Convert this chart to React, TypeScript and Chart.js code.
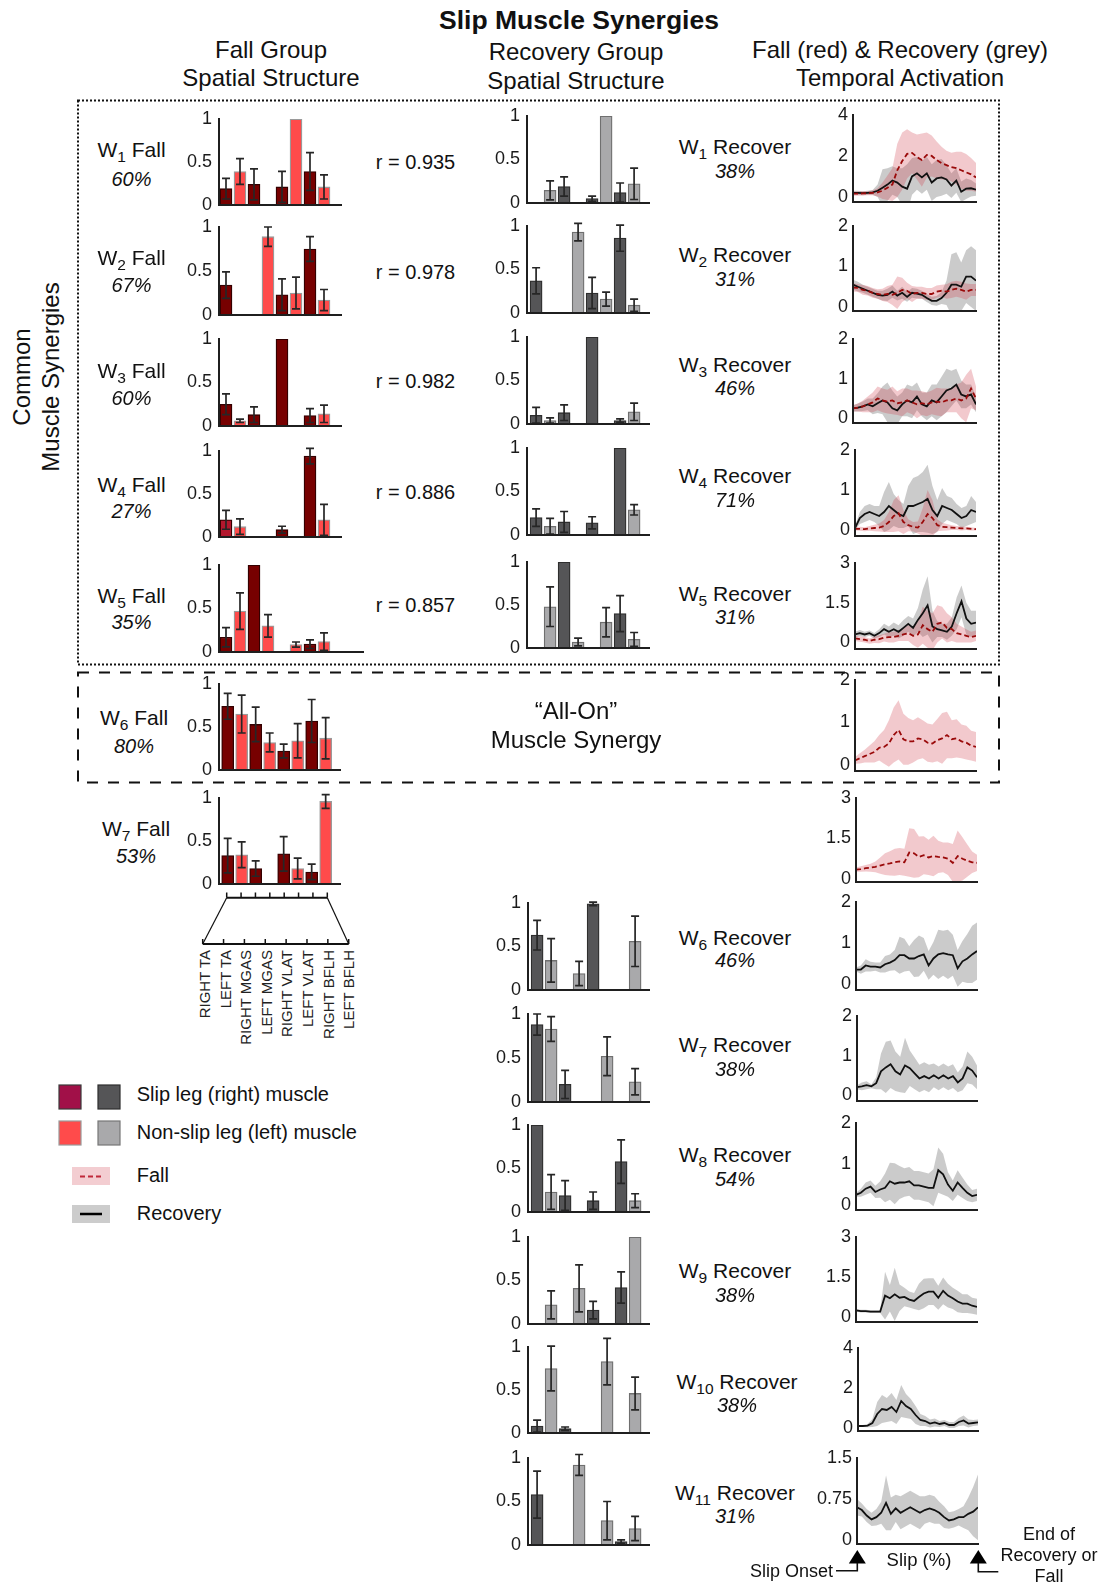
import React, { useEffect, useRef } from 'react';
import { Chart, registerables } from 'chart.js';

Chart.register(...registerables);

const FONT = "'Liberation Sans', Arial, Helvetica, sans-serif";
Chart.defaults.font.family = FONT;
Chart.defaults.color = '#1a1a1a';

// ------------------------------------------------------------------ data
const MUSCLES = ['RIGHT TA', 'LEFT TA', 'RIGHT MGAS', 'LEFT MGAS', 'RIGHT VLAT', 'LEFT VLAT', 'RIGHT BFLH', 'LEFT BFLH'];

const FALL_SHARE = ['60%', '67%', '60%', '27%', '35%', '80%', '53%'];
const R_VALUES = ['0.935', '0.978', '0.982', '0.886', '0.857'];
const REC_SHARE = ['38%', '31%', '46%', '71%', '31%', '46%', '38%', '54%', '38%', '38%', '31%'];

const BAR_TICKS = [0, 0.5, 1];
const TICKS_2 = [0, 1, 2];
const TICKS_3 = [0, 1.5, 3];
const TICKS_4 = [0, 2, 4];
const TICKS_15 = [0, 0.75, 1.5];

// spatial structure (8 muscles, 0 = no bar)
const FALL1_VAL = [0.19, 0.39, 0.24, 0, 0.21, 1.0, 0.39, 0.21];
const FALL1_ERR = [0.12, 0.15, 0.18, 0, 0.18, 0, 0.22, 0.14];
const FALL2_VAL = [0.34, 0, 0, 0.89, 0.23, 0.25, 0.75, 0.17];
const FALL2_ERR = [0.15, 0, 0, 0.11, 0.18, 0.18, 0.14, 0.12];
const FALL3_VAL = [0.25, 0.06, 0.13, 0, 1.0, 0, 0.12, 0.14];
const FALL3_ERR = [0.12, 0.02, 0.09, 0, 0, 0, 0.08, 0.1];
const FALL4_VAL = [0.2, 0.12, 0, 0, 0.085, 0, 0.94, 0.2];
const FALL4_ERR = [0.11, 0.09, 0, 0, 0.04, 0, 0.09, 0.18];
const FALL5_VAL = [0.17, 0.47, 1.0, 0.3, 0, 0.085, 0.09, 0.12];
const FALL5_ERR = [0.11, 0.21, 0, 0.13, 0, 0.03, 0.05, 0.1];
const FALL6_VAL = [0.74, 0.65, 0.53, 0.32, 0.22, 0.34, 0.57, 0.37];
const FALL6_ERR = [0.15, 0.22, 0.2, 0.11, 0.08, 0.2, 0.25, 0.24];
const FALL7_VAL = [0.33, 0.34, 0.18, 0, 0.35, 0.18, 0.14, 0.96];
const FALL7_ERR = [0.2, 0.15, 0.09, 0, 0.2, 0.12, 0.09, 0.08];

const REC1_VAL = [0, 0.145, 0.19, 0, 0.05, 1.0, 0.12, 0.22];
const REC1_ERR = [0, 0.11, 0.11, 0, 0.03, 0, 0.11, 0.18];
const REC2_VAL = [0.37, 0, 0, 0.93, 0.23, 0.16, 0.86, 0.09];
const REC2_ERR = [0.15, 0, 0, 0.1, 0.18, 0.08, 0.15, 0.07];
const REC3_VAL = [0.1, 0.04, 0.13, 0, 1.0, 0, 0.04, 0.14];
const REC3_ERR = [0.09, 0.03, 0.09, 0, 0, 0, 0.02, 0.1];
const REC4_VAL = [0.2, 0.1, 0.15, 0, 0.14, 0, 1.0, 0.29];
const REC4_ERR = [0.1, 0.09, 0.12, 0, 0.07, 0, 0, 0.06];
const REC5_VAL = [0, 0.48, 1.0, 0.07, 0, 0.3, 0.4, 0.1];
const REC5_ERR = [0, 0.23, 0, 0.045, 0, 0.17, 0.21, 0.08];
const REC6_VAL = [0.63, 0.34, 0, 0.19, 0.99, 0, 0, 0.56];
const REC6_ERR = [0.17, 0.25, 0, 0.14, 0.02, 0, 0, 0.29];
const REC7_VAL = [0.88, 0.83, 0.2, 0, 0, 0.52, 0, 0.23];
const REC7_ERR = [0.12, 0.14, 0.16, 0, 0, 0.22, 0, 0.15];
const REC8_VAL = [1.0, 0.23, 0.19, 0, 0.13, 0, 0.58, 0.13];
const REC8_ERR = [0, 0.2, 0.17, 0, 0.1, 0, 0.25, 0.08];
const REC9_VAL = [0, 0.22, 0, 0.41, 0.16, 0, 0.42, 1.0];
const REC9_ERR = [0, 0.16, 0, 0.27, 0.1, 0, 0.18, 0];
const REC10_VAL = [0.08, 0.75, 0.05, 0, 0, 0.83, 0, 0.46];
const REC10_ERR = [0.07, 0.26, 0.02, 0, 0, 0.27, 0, 0.19];
const REC11_VAL = [0.58, 0, 0, 0.92, 0, 0.28, 0.04, 0.19];
const REC11_ERR = [0.27, 0, 0, 0.12, 0, 0.22, 0.02, 0.14];

// temporal activation (x = slip %)
const SLIP_PCT = [0, 4, 8, 12, 16, 20, 24, 28, 32, 36, 40, 44, 48, 52, 56, 60, 64, 68, 72, 76, 80, 84, 88, 92, 96, 100];

const REC1_M = [0.2, 0.2, 0.18, 0.2, 0.22, 0.3, 0.45, 0.6, 0.8, 0.7, 0.5, 0.4, 1.0, 1.15, 0.95, 1.15, 0.7, 0.9, 0.95, 0.85, 0.55, 0.8, 0.25, 0.4, 0.42, 0.35];
const REC1_S = [0.1, 0.1, 0.1, 0.1, 0.12, 0.3, 0.9, 0.8, 0.7, 0.7, 0.9, 1.2, 0.9, 0.8, 0.8, 0.8, 0.9, 0.9, 0.9, 0.7, 0.6, 0.6, 0.5, 0.5, 0.4, 0.3];
const FALL1_M = [0.16, 0.16, 0.17, 0.18, 0.2, 0.22, 0.3, 0.45, 0.6, 1.3, 1.75, 2.1, 2.15, 1.95, 1.8, 2.05, 2.0, 1.8, 1.65, 1.55, 1.45, 1.4, 1.3, 1.2, 1.1, 0.95];
const FALL1_S = [0.1, 0.1, 0.1, 0.1, 0.12, 0.2, 0.4, 0.6, 0.8, 1.3, 1.4, 1.2, 1.0, 1.1, 1.3, 1.1, 1.0, 0.9, 0.8, 0.7, 0.7, 0.8, 0.9, 0.9, 0.8, 0.7];

const REC2_M = [0.55, 0.5, 0.45, 0.4, 0.35, 0.3, 0.28, 0.3, 0.38, 0.28, 0.35, 0.25, 0.35, 0.33, 0.3, 0.22, 0.15, 0.15, 0.22, 0.35, 0.55, 0.55, 0.5, 0.75, 0.75, 0.65];
const REC2_S = [0.12, 0.12, 0.1, 0.1, 0.1, 0.1, 0.12, 0.15, 0.15, 0.12, 0.15, 0.12, 0.12, 0.12, 0.1, 0.1, 0.1, 0.12, 0.15, 0.3, 0.75, 0.8, 0.6, 0.65, 0.75, 0.75];
const FALL2_M = [0.48, 0.47, 0.42, 0.4, 0.35, 0.32, 0.3, 0.32, 0.3, 0.35, 0.42, 0.4, 0.32, 0.35, 0.35, 0.32, 0.32, 0.38, 0.4, 0.38, 0.42, 0.45, 0.42, 0.38, 0.42, 0.42];
const FALL2_S = [0.1, 0.1, 0.12, 0.12, 0.12, 0.12, 0.15, 0.2, 0.25, 0.4, 0.3, 0.2, 0.2, 0.15, 0.15, 0.15, 0.15, 0.15, 0.15, 0.18, 0.2, 0.2, 0.2, 0.2, 0.15, 0.15];

const REC3_M = [0.25, 0.27, 0.3, 0.35, 0.3, 0.38, 0.45, 0.4, 0.25, 0.2, 0.35, 0.45, 0.4, 0.55, 0.35, 0.3, 0.45, 0.4, 0.55, 0.7, 0.75, 0.85, 0.6, 0.55, 0.6, 0.35];
const REC3_S = [0.08, 0.1, 0.12, 0.15, 0.2, 0.25, 0.35, 0.5, 0.45, 0.35, 0.3, 0.4, 0.4, 0.35, 0.3, 0.35, 0.4, 0.45, 0.5, 0.55, 0.45, 0.4, 0.35, 0.3, 0.25, 0.2];
const FALL3_M = [0.25, 0.27, 0.3, 0.35, 0.4, 0.5, 0.45, 0.42, 0.45, 0.38, 0.4, 0.45, 0.4, 0.35, 0.38, 0.35, 0.4, 0.42, 0.4, 0.45, 0.45, 0.5, 0.45, 0.5, 0.75, 0.5];
const FALL3_S = [0.08, 0.1, 0.15, 0.2, 0.25, 0.3, 0.3, 0.3, 0.35, 0.3, 0.35, 0.3, 0.3, 0.35, 0.3, 0.3, 0.3, 0.35, 0.35, 0.3, 0.3, 0.35, 0.45, 0.6, 0.5, 0.3];

const REC4_M = [0.05, 0.3, 0.4, 0.45, 0.4, 0.35, 0.45, 0.6, 0.5, 0.4, 0.35, 0.6, 0.6, 0.65, 0.7, 0.78, 0.5, 0.35, 0.6, 0.55, 0.5, 0.4, 0.3, 0.35, 0.5, 0.45];
const REC4_S = [0.05, 0.15, 0.2, 0.2, 0.2, 0.25, 0.5, 0.6, 0.4, 0.35, 0.3, 0.5, 0.7, 0.7, 0.75, 0.85, 0.6, 0.4, 0.45, 0.3, 0.3, 0.25, 0.25, 0.25, 0.35, 0.25];
const FALL4_M = [0.03, 0.03, 0.02, 0.04, 0.05, 0.06, 0.1, 0.2, 0.35, 0.42, 0.2, 0.12, 0.08, 0.06, 0.2, 0.4, 0.3, 0.12, 0.08, 0.07, 0.06, 0.05, 0.04, 0.04, 0.03, 0.02];
const FALL4_S = [0.04, 0.05, 0.05, 0.06, 0.08, 0.1, 0.15, 0.25, 0.4, 0.45, 0.3, 0.15, 0.12, 0.15, 0.35, 0.6, 0.45, 0.15, 0.1, 0.08, 0.06, 0.05, 0.05, 0.04, 0.04, 0.03];

const REC5_M = [0.3, 0.35, 0.3, 0.35, 0.25, 0.35, 0.5, 0.4, 0.5, 0.4, 0.55, 0.7, 0.55, 0.85, 1.1, 1.4, 0.6, 0.5, 0.45, 0.4, 0.6, 1.1, 1.55, 0.9, 0.7, 0.75];
const REC5_S = [0.1, 0.12, 0.1, 0.1, 0.1, 0.15, 0.2, 0.2, 0.25, 0.25, 0.3, 0.3, 0.35, 0.45, 0.9, 1.1, 0.6, 0.3, 0.25, 0.3, 0.35, 0.6, 0.6, 0.6, 0.5, 0.45];
const FALL5_M = [0.15, 0.12, 0.1, 0.05, 0.1, 0.12, 0.18, 0.2, 0.2, 0.25, 0.3, 0.35, 0.25, 0.3, 0.65, 0.5, 0.4, 0.7, 0.75, 0.55, 0.5, 0.35, 0.3, 0.25, 0.2, 0.25];
const FALL5_S = [0.1, 0.1, 0.1, 0.1, 0.12, 0.15, 0.15, 0.2, 0.2, 0.2, 0.25, 0.3, 0.35, 0.5, 0.7, 0.7, 0.7, 0.7, 0.6, 0.55, 0.45, 0.35, 0.3, 0.25, 0.2, 0.2];

const FALL6_M = [0.1, 0.15, 0.2, 0.25, 0.3, 0.4, 0.42, 0.5, 0.7, 0.82, 0.6, 0.55, 0.55, 0.62, 0.6, 0.52, 0.5, 0.58, 0.62, 0.7, 0.6, 0.62, 0.55, 0.52, 0.45, 0.42];
const FALL6_S = [0.08, 0.12, 0.15, 0.2, 0.25, 0.3, 0.4, 0.55, 0.65, 0.7, 0.6, 0.55, 0.5, 0.5, 0.45, 0.45, 0.45, 0.5, 0.6, 0.55, 0.45, 0.45, 0.4, 0.4, 0.35, 0.35];
const FALL7_M = [0.35, 0.37, 0.4, 0.42, 0.45, 0.5, 0.55, 0.58, 0.62, 0.65, 0.62, 0.98, 0.95, 0.82, 0.88, 0.8, 0.85, 0.82, 0.8, 0.75, 0.6, 0.85, 0.75, 0.68, 0.62, 0.6];
const FALL7_S = [0.08, 0.1, 0.12, 0.15, 0.2, 0.3, 0.4, 0.45, 0.5, 0.5, 0.5, 0.9, 0.9, 0.75, 0.7, 0.65, 0.75, 0.6, 0.55, 0.6, 0.7, 0.95, 0.8, 0.6, 0.4, 0.3];

const REC6_M = [0.35, 0.35, 0.45, 0.42, 0.42, 0.4, 0.48, 0.52, 0.58, 0.7, 0.7, 0.62, 0.62, 0.68, 0.72, 0.45, 0.62, 0.72, 0.75, 0.72, 0.7, 0.38, 0.55, 0.62, 0.72, 0.8];
const REC6_S = [0.05, 0.1, 0.15, 0.12, 0.1, 0.12, 0.2, 0.2, 0.25, 0.45, 0.4, 0.3, 0.45, 0.5, 0.4, 0.35, 0.4, 0.6, 0.55, 0.6, 0.5, 0.45, 0.5, 0.6, 0.7, 0.7];
const REC7_M = [0.2, 0.22, 0.25, 0.22, 0.3, 0.6, 0.7, 0.78, 0.6, 0.52, 0.75, 0.68, 0.55, 0.42, 0.48, 0.42, 0.5, 0.42, 0.5, 0.42, 0.48, 0.32, 0.42, 0.7, 0.62, 0.45];
const REC7_S = [0.05, 0.1, 0.1, 0.05, 0.15, 0.45, 0.65, 0.6, 0.5, 0.45, 0.7, 0.45, 0.4, 0.35, 0.35, 0.35, 0.3, 0.3, 0.3, 0.3, 0.3, 0.25, 0.3, 0.4, 0.35, 0.3];
const REC8_M = [0.25, 0.3, 0.4, 0.45, 0.32, 0.38, 0.42, 0.58, 0.52, 0.55, 0.55, 0.58, 0.48, 0.48, 0.45, 0.42, 0.42, 0.85, 0.75, 0.5, 0.35, 0.55, 0.42, 0.3, 0.22, 0.25];
const REC8_S = [0.05, 0.1, 0.15, 0.15, 0.15, 0.2, 0.35, 0.45, 0.5, 0.4, 0.35, 0.35, 0.35, 0.35, 0.35, 0.35, 0.45, 0.55, 0.5, 0.3, 0.25, 0.3, 0.25, 0.2, 0.15, 0.15];
const REC9_M = [0.25, 0.22, 0.22, 0.2, 0.2, 0.2, 0.8, 0.7, 0.85, 0.72, 0.75, 0.65, 0.6, 0.75, 0.88, 0.95, 0.95, 0.72, 0.98, 0.8, 0.7, 0.58, 0.5, 0.5, 0.42, 0.38];
const REC9_S = [0.05, 0.05, 0.05, 0.05, 0.05, 0.05, 0.9, 0.5, 1.0, 0.5, 0.35, 0.3, 0.3, 0.5, 0.55, 0.5, 0.5, 0.45, 0.5, 0.45, 0.4, 0.4, 0.35, 0.35, 0.3, 0.3];
const REC10_M = [0.1, 0.1, 0.12, 0.25, 0.7, 0.95, 0.9, 1.05, 0.8, 1.35, 1.1, 0.95, 0.65, 0.4, 0.35, 0.22, 0.28, 0.2, 0.25, 0.15, 0.15, 0.3, 0.38, 0.22, 0.25, 0.28];
const REC10_S = [0.05, 0.05, 0.08, 0.2, 0.6, 0.7, 0.6, 0.7, 0.6, 0.8, 0.6, 0.5, 0.45, 0.3, 0.25, 0.2, 0.2, 0.15, 0.15, 0.15, 0.15, 0.2, 0.25, 0.2, 0.15, 0.15];
const REC11_M = [0.6, 0.55, 0.45, 0.38, 0.42, 0.5, 0.68, 0.48, 0.58, 0.5, 0.55, 0.6, 0.55, 0.5, 0.55, 0.58, 0.55, 0.5, 0.42, 0.36, 0.38, 0.42, 0.42, 0.48, 0.52, 0.6];
const REC11_S = [0.15, 0.12, 0.12, 0.12, 0.15, 0.2, 0.5, 0.3, 0.25, 0.3, 0.3, 0.3, 0.3, 0.3, 0.25, 0.25, 0.25, 0.2, 0.2, 0.15, 0.15, 0.15, 0.2, 0.3, 0.45, 0.6];

// ------------------------------------------------------------------ tables built from the arrays
const FALL_SYN = [
  [FALL1_VAL, FALL1_ERR], [FALL2_VAL, FALL2_ERR], [FALL3_VAL, FALL3_ERR], [FALL4_VAL, FALL4_ERR],
  [FALL5_VAL, FALL5_ERR], [FALL6_VAL, FALL6_ERR], [FALL7_VAL, FALL7_ERR],
];
const REC_SYN = [
  [REC1_VAL, REC1_ERR], [REC2_VAL, REC2_ERR], [REC3_VAL, REC3_ERR], [REC4_VAL, REC4_ERR], [REC5_VAL, REC5_ERR],
  [REC6_VAL, REC6_ERR], [REC7_VAL, REC7_ERR], [REC8_VAL, REC8_ERR], [REC9_VAL, REC9_ERR], [REC10_VAL, REC10_ERR], [REC11_VAL, REC11_ERR],
];
const TEMPORAL: any[] = [
  { fall: [FALL1_M, FALL1_S], rec: [REC1_M, REC1_S], ticks: TICKS_4 },
  { fall: [FALL2_M, FALL2_S], rec: [REC2_M, REC2_S], ticks: TICKS_2 },
  { fall: [FALL3_M, FALL3_S], rec: [REC3_M, REC3_S], ticks: TICKS_2 },
  { fall: [FALL4_M, FALL4_S], rec: [REC4_M, REC4_S], ticks: TICKS_2 },
  { fall: [FALL5_M, FALL5_S], rec: [REC5_M, REC5_S], ticks: TICKS_3 },
  { fall: [FALL6_M, FALL6_S], ticks: TICKS_2 },
  { fall: [FALL7_M, FALL7_S], ticks: TICKS_3 },
  { rec: [REC6_M, REC6_S], ticks: TICKS_2 },
  { rec: [REC7_M, REC7_S], ticks: TICKS_2 },
  { rec: [REC8_M, REC8_S], ticks: TICKS_2 },
  { rec: [REC9_M, REC9_S], ticks: TICKS_3 },
  { rec: [REC10_M, REC10_S], ticks: TICKS_4 },
  { rec: [REC11_M, REC11_S], ticks: TICKS_15 },
];

// ------------------------------------------------------------------ layout (pixels)
const FALL_BOX = [
  { l: 219, r: 341, t: 119, b: 205, xMin: 0.5 },
  { l: 219, r: 341, t: 227, b: 315, xMin: 0.5 },
  { l: 219, r: 341, t: 339, b: 426, xMin: 0.5 },
  { l: 219, r: 341, t: 451, b: 537, xMin: 0.5 },
  { l: 219, r: 363, t: 565, b: 652, xMin: 0.5 },
  { l: 219, r: 340, t: 684, b: 770, xMin: 0.38 },
  { l: 219, r: 340, t: 798, b: 884, xMin: 0.38 },
];
const REC_BOX = [
  { l: 527, r: 649, t: 116, b: 203 },
  { l: 527, r: 649, t: 226, b: 313 },
  { l: 527, r: 649, t: 337, b: 424 },
  { l: 527, r: 649, t: 448, b: 535 },
  { l: 527, r: 649, t: 562, b: 648 },
  { l: 528, r: 649, t: 903, b: 990 },
  { l: 528, r: 649, t: 1014, b: 1102 },
  { l: 528, r: 649, t: 1125, b: 1212 },
  { l: 528, r: 649, t: 1237, b: 1324 },
  { l: 528, r: 649, t: 1347, b: 1433 },
  { l: 528, r: 649, t: 1458, b: 1545 },
];
const TEMP_BOX = [
  { l: 853, r: 976, t: 115, b: 202, yMin: -0.25 },
  { l: 853, r: 976, t: 226, b: 311, yMin: -0.1 },
  { l: 853, r: 976, t: 339, b: 423, yMin: -0.12 },
  { l: 855, r: 976, t: 450, b: 536, yMin: -0.15 },
  { l: 855, r: 976, t: 563, b: 649, yMin: -0.25 },
  { l: 855, r: 976, t: 680, b: 771, yMin: -0.15 },
  { l: 856, r: 977, t: 798, b: 882, yMin: -0.11 },
  { l: 856, r: 977, t: 902, b: 990, yMin: -0.15 },
  { l: 857, r: 977, t: 1016, b: 1101, yMin: -0.15 },
  { l: 856, r: 977, t: 1123, b: 1210, yMin: -0.12 },
  { l: 856, r: 977, t: 1237, b: 1322, yMin: -0.19 },
  { l: 858, r: 978, t: 1348, b: 1431, yMin: -0.15 },
  { l: 857, r: 978, t: 1458, b: 1544, yMin: -0.07 },
];

const SLOT_PX = 14;
const PADL = 46, PADT = 14, PADR = 4, PADB = 14;

const DARK_RED = '#770000', LIGHT_RED = '#ff4b4b', DARK_GREY = '#555557', LIGHT_GREY = '#a9a9ab';
const CRIMSON = '#b3172d';
const REC_BAND = 'rgba(140,140,140,0.45)';
const FALL_BAND = 'rgba(210,60,75,0.28)';
const AXIS = '#1f1f1f';
const TICK_FONT = 18;

// ------------------------------------------------------------------ chart helpers
const commonOpts = () => ({
  responsive: false,
  animation: false,
  events: [],
  devicePixelRatio: 1,
  layout: { padding: { left: 0, right: PADR, top: PADT, bottom: PADB } },
  plugins: { legend: { display: false }, tooltip: { enabled: false }, title: { display: false } },
});

const xScale = (min: number, max: number) => ({
  type: 'linear',
  min, max, offset: false,
  afterFit: (s: any) => { s.height = 0; s.paddingLeft = 0; s.paddingRight = 0; },
  ticks: { display: false },
  grid: { display: false, drawTicks: false },
  border: { display: true, color: AXIS, width: 2, z: 1 },
});

const yScale = (min: number, max: number, ticks: number[], pad: number) => ({
  type: 'linear',
  min, max,
  afterFit: (s: any) => { s.width = PADL; s.paddingTop = 0; s.paddingBottom = 0; },
  afterBuildTicks: (s: any) => { s.ticks = ticks.map((v) => ({ value: v })); },
  ticks: { padding: pad, color: '#1a1a1a', font: { family: FONT, size: TICK_FONT }, autoSkip: false, callback: (v: any) => String(v) },
  grid: { display: false, drawTicks: false },
  border: { display: true, color: AXIS, width: 2, z: 1 },
});

function errorBarPlugin(errs: number[]) {
  return {
    id: 'errorBars',
    afterDatasetsDraw(chart: any) {
      const meta = chart.getDatasetMeta(0);
      const ys = chart.scales.y;
      const ctx = chart.ctx;
      const pts = chart.data.datasets[0].data;
      ctx.save();
      ctx.strokeStyle = '#262626';
      ctx.lineWidth = 1.7;
      meta.data.forEach((el: any, i: number) => {
        const e = errs[i];
        if (!e) return;
        const v = pts[i].y;
        const yt = ys.getPixelForValue(v + e);
        const yb = ys.getPixelForValue(Math.max(0, v - e));
        const x = el.x;
        ctx.beginPath();
        ctx.moveTo(x, yt); ctx.lineTo(x, yb);
        ctx.moveTo(x - 4, yt); ctx.lineTo(x + 4, yt);
        ctx.moveTo(x - 4, yb); ctx.lineTo(x + 4, yb);
        ctx.stroke();
      });
      ctx.restore();
    },
  };
}

function barConfig(vals: number[], errs: number[], box: any, rec: boolean, override?: Record<number, string>) {
  const pts: any[] = [], bg: string[] = [], bc: string[] = [], es: number[] = [];
  vals.forEach((v, i) => {
    if (!(v > 0)) return;
    const right = i % 2 === 0;
    pts.push({ x: i + 1, y: v });
    let c = rec ? (right ? DARK_GREY : LIGHT_GREY) : (right ? DARK_RED : LIGHT_RED);
    if (override && override[i]) c = override[i];
    bg.push(c);
    bc.push(rec ? (right ? '#2e2e2e' : '#6f6f6f') : (right ? '#330000' : '#9a9a9a'));
    es.push(errs[i]);
  });
  const xMin = box.xMin ?? 0.35;
  const xMax = xMin + (box.r - box.l) / SLOT_PX;
  return {
    type: 'bar',
    data: { datasets: [{ data: pts, backgroundColor: bg, borderColor: bc, borderWidth: 1.3, barThickness: 12, borderSkipped: 'start' }] },
    options: { ...commonOpts(), scales: { x: xScale(xMin, xMax), y: yScale(0, 1, BAR_TICKS, 7) } },
    plugins: [errorBarPlugin(es)],
  };
}

function temporalConfig(p: any, box: any) {
  const toPts = (arr: number[]) => arr.map((y, i) => ({ x: SLIP_PCT[i], y }));
  const datasets: any[] = [];
  const bandOf = (s: any, color: string, order: number) => {
    const [m, sd] = s;
    datasets.push({ data: toPts(m.map((v: number, i: number) => v - sd[i])), borderColor: 'rgba(0,0,0,0)', borderWidth: 0, pointRadius: 0, fill: false, order });
    datasets.push({ data: toPts(m.map((v: number, i: number) => v + sd[i])), borderColor: 'rgba(0,0,0,0)', borderWidth: 0, pointRadius: 0, fill: '-1', backgroundColor: color, order });
  };
  if (p.rec) bandOf(p.rec, REC_BAND, 10);
  if (p.fall) bandOf(p.fall, FALL_BAND, 8);
  if (p.rec) datasets.push({ data: toPts(p.rec[0]), borderColor: '#111111', borderWidth: 1.8, pointRadius: 0, fill: false, tension: 0, order: 2 });
  if (p.fall) datasets.push({ data: toPts(p.fall[0]), borderColor: '#9a0a0a', borderWidth: 1.8, borderDash: [5, 3], pointRadius: 0, fill: false, tension: 0, order: 1 });
  const yMax = p.ticks[p.ticks.length - 1];
  return {
    type: 'line',
    data: { datasets },
    options: { ...commonOpts(), scales: { x: xScale(0, 100), y: yScale(box.yMin, yMax, p.ticks, 5) } },
  };
}

function Panel({ box, build }: { box: any; build: () => any }) {
  const ref = useRef<HTMLCanvasElement>(null);
  useEffect(() => {
    const chart = new Chart(ref.current as HTMLCanvasElement, build());
    return () => chart.destroy();
  }, []);
  const w = PADL + (box.r - box.l) + PADR;
  const h = PADT + (box.b - box.t) + PADB;
  return (
    <canvas ref={ref} width={w} height={h}
      style={{ position: 'absolute', left: box.l - PADL, top: box.t - PADT, width: w, height: h }} />
  );
}

// ------------------------------------------------------------------ text helpers
const SUB: any = { fontSize: '0.74em', verticalAlign: '-0.35em', lineHeight: 0 };

function Txt({ x, y, size = 21, italic = false, bold = false, anchor = 'middle', children }: any) {
  const tx = anchor === 'middle' ? '-50%' : anchor === 'end' ? '-100%' : '0';
  return (
    <div style={{
      position: 'absolute', left: x, top: y, transform: `translate(${tx}, -50%)`,
      fontFamily: FONT, fontSize: size, fontStyle: italic ? 'italic' : 'normal', fontWeight: bold ? 'bold' : 'normal',
      lineHeight: 1, whiteSpace: 'nowrap', color: '#111',
    }}>{children}</div>
  );
}

function RotCenter({ x, y, size, children }: any) {
  return (
    <div style={{
      position: 'absolute', left: x, top: y, transform: 'translate(-50%, -50%) rotate(-90deg)',
      fontFamily: FONT, fontSize: size, lineHeight: 1, whiteSpace: 'nowrap', color: '#111',
    }}>{children}</div>
  );
}

function RotEnd({ x, yTop, size, children }: any) {
  const L = 120, H = Math.round(size * 1.2);
  return (
    <div style={{
      position: 'absolute', left: x - L, top: yTop - H / 2, width: L, height: H, lineHeight: `${H}px`,
      textAlign: 'right', fontFamily: FONT, fontSize: size, whiteSpace: 'nowrap', color: '#222',
      transformOrigin: '100% 50%', transform: 'rotate(-90deg)',
    }}>{children}</div>
  );
}

const FALL_LABEL_POS = [
  [131.5, 149, 179], [131.5, 256.7, 285], [131.5, 370, 397.7], [131.5, 484, 511],
  [131.5, 595, 622], [134, 717.3, 746], [136, 827.7, 856],
];
const R_LABEL_Y = [161.7, 271.7, 381, 492, 605];
const REC_LABEL_POS = [
  [735, 146.4, 170.7], [735, 254.3, 278.6], [735, 363.6, 387.5], [735, 475, 500], [735, 592.9, 616.8],
  [735, 937.3, 960], [735, 1044, 1069.3], [735, 1154, 1179], [735, 1270, 1295], [737, 1380.7, 1405], [735, 1491.7, 1516],
];

function Decorations() {
  const topTicks = Array.from({ length: 8 }, (_, i) => 226.7 + i * (100.6 / 7));
  const botTicks = Array.from({ length: 8 }, (_, i) => 202.7 + i * (146 / 7));
  const k = '#111';
  return (
    <svg width={1100} height={1584} style={{ position: 'absolute', left: 0, top: 0 }}>
      <rect x={78} y={100.5} width={921} height={564} fill="none" stroke={k} strokeWidth={2} strokeDasharray="2 2" />
      <rect x={78} y={672.5} width={921} height={110} fill="none" stroke={k} strokeWidth={2} strokeDasharray="11 10" />
      <line x1={226.7} y1={897.7} x2={327.3} y2={897.7} stroke={k} strokeWidth={2} />
      {topTicks.map((x, i) => <line key={'tt' + i} x1={x} y1={897.7} x2={x} y2={892.5} stroke={k} strokeWidth={1.5} />)}
      <line x1={226.7} y1={897.7} x2={202.7} y2={944} stroke={k} strokeWidth={1.2} />
      <line x1={327.3} y1={897.7} x2={348.7} y2={944} stroke={k} strokeWidth={1.2} />
      <line x1={202.7} y1={944} x2={348.7} y2={944} stroke={k} strokeWidth={2} />
      {botTicks.map((x, i) => <line key={'bt' + i} x1={x} y1={944} x2={x} y2={939} stroke={k} strokeWidth={1.5} />)}
      {/* legend */}
      <rect x={59} y={1085} width={22} height={24} fill="#a11048" stroke="#3a3a3a" strokeWidth={1.2} />
      <rect x={98} y={1085} width={22} height={24} fill={DARK_GREY} stroke="#2e2e2e" strokeWidth={1.2} />
      <rect x={59} y={1121} width={22} height={24} fill={LIGHT_RED} stroke="#9a9a9a" strokeWidth={1.2} />
      <rect x={98} y={1121} width={22} height={24} fill={LIGHT_GREY} stroke="#777" strokeWidth={1.2} />
      <rect x={72} y={1167} width={38} height={18} fill="#f3cdd1" />
      <line x1={80} y1={1176.5} x2={102} y2={1176.5} stroke="#c0283a" strokeWidth={2} strokeDasharray="5 3" />
      <rect x={72} y={1205} width={38} height={18} fill="#cccccc" />
      <line x1={80} y1={1214} x2={102} y2={1214} stroke="#000" strokeWidth={2.5} />
      {/* slip onset / end markers */}
      <polygon points="857.3,1550 848.8,1563.5 865.8,1563.5" fill="#000" />
      <polygon points="978.3,1550 969.8,1563.5 986.8,1563.5" fill="#000" />
      <polyline points="836,1570.7 857.3,1570.7 857.3,1563" fill="none" stroke={k} strokeWidth={1.6} />
      <polyline points="978.3,1563 978.3,1571.7 998.3,1571.7" fill="none" stroke={k} strokeWidth={1.6} />
    </svg>
  );
}

export default function App() {
  return (
    <div style={{ position: 'absolute', left: 0, top: 0, width: 1100, height: 1584, background: '#fff', overflow: 'hidden' }}>
      <Decorations />
      {FALL_SYN.map(([v, e], i) => (
        <Panel key={'f' + i} box={FALL_BOX[i]} build={() => barConfig(v, e, FALL_BOX[i], false, i === 3 ? { 0: CRIMSON } : undefined)} />
      ))}
      {REC_SYN.map(([v, e], i) => (
        <Panel key={'r' + i} box={REC_BOX[i]} build={() => barConfig(v, e, REC_BOX[i], true)} />
      ))}
      {TEMPORAL.map((p, i) => (
        <Panel key={'t' + i} box={TEMP_BOX[i]} build={() => temporalConfig(p, TEMP_BOX[i])} />
      ))}

      <Txt x={579} y={20} size={26.5} bold>Slip Muscle Synergies</Txt>
      <Txt x={271} y={50} size={24}>Fall Group</Txt>
      <Txt x={271} y={78} size={24}>Spatial Structure</Txt>
      <Txt x={576} y={52} size={24}>Recovery Group</Txt>
      <Txt x={576} y={81} size={24}>Spatial Structure</Txt>
      <Txt x={900} y={50} size={24}>Fall (red) &amp; Recovery (grey)</Txt>
      <Txt x={900} y={78} size={24}>Temporal Activation</Txt>

      <RotCenter x={22} y={377} size={24}>Common</RotCenter>
      <RotCenter x={50.5} y={377} size={24}>Muscle Synergies</RotCenter>

      {FALL_LABEL_POS.map(([x, y1, y2], i) => (
        <React.Fragment key={'fl' + i}>
          <Txt x={x} y={y1} size={21}>W<sub style={SUB}>{i + 1}</sub> Fall</Txt>
          <Txt x={x} y={y2} size={20} italic>{FALL_SHARE[i]}</Txt>
        </React.Fragment>
      ))}
      {R_VALUES.map((r, i) => <Txt key={'rv' + i} x={415.5} y={R_LABEL_Y[i]} size={20}>r = {r}</Txt>)}
      {REC_LABEL_POS.map(([x, y1, y2], i) => (
        <React.Fragment key={'rl' + i}>
          <Txt x={x} y={y1} size={21}>W<sub style={SUB}>{i + 1}</sub> Recover</Txt>
          <Txt x={x} y={y2} size={20} italic>{REC_SHARE[i]}</Txt>
        </React.Fragment>
      ))}

      <Txt x={576} y={711} size={24}>{'\u201CAll-On\u201D'}</Txt>
      <Txt x={576} y={740} size={24}>Muscle Synergy</Txt>

      {MUSCLES.map((m, i) => <RotEnd key={'m' + i} x={205 + i * 20.62} yTop={950} size={15}>{m}</RotEnd>)}

      <Txt x={136.7} y={1094.3} size={20} anchor="start">Slip leg (right) muscle</Txt>
      <Txt x={136.7} y={1131.7} size={20} anchor="start">Non-slip leg (left) muscle</Txt>
      <Txt x={136.7} y={1175} size={20} anchor="start">Fall</Txt>
      <Txt x={136.7} y={1213} size={20} anchor="start">Recovery</Txt>

      <Txt x={919} y={1560} size={18.5}>Slip (%)</Txt>
      <Txt x={833} y={1570.7} size={18} anchor="end">Slip Onset</Txt>
      <Txt x={1049} y={1534} size={18}>End of</Txt>
      <Txt x={1049} y={1554.5} size={18}>Recovery or</Txt>
      <Txt x={1049} y={1576} size={18}>Fall</Txt>
    </div>
  );
}
